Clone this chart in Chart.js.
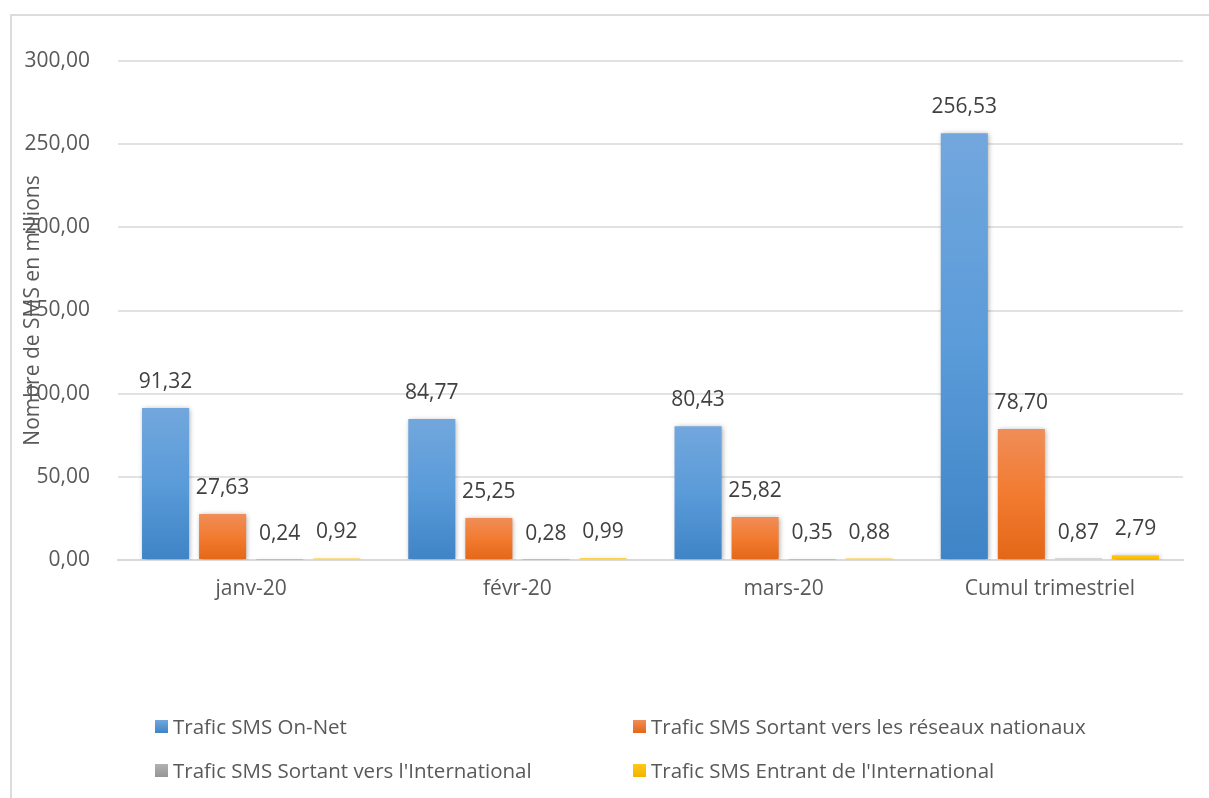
<!DOCTYPE html>
<html>
<head>
<meta charset="utf-8">
<script src="https://cdn.jsdelivr.net/npm/chart.js@4"></script>
<style>
  html, body { margin: 0; padding: 0; background: #fff; }
  #wrap { position: relative; width: 1209px; height: 798px; overflow: hidden; }
  #frame { position: absolute; left: 10px; top: 14px; width: 1260px; height: 900px;
           border-top: 2px solid #dcdcdc; border-left: 2px solid #dcdcdc; box-sizing: border-box; }
  #chart { position: absolute; left: 0; top: 0; }
  #legend { position: absolute; left: 155px; top: 704px; display: grid;
            grid-template-columns: 478px 478px; grid-auto-rows: 44px;
            font-family: "Open Sans", sans-serif; font-size: 20.5px; color: #595959; }
  #legend .item { display: flex; align-items: center; white-space: nowrap; }
  #legend .box { width: 13px; height: 13px; margin-right: 5px; flex: none; }
</style>
</head>
<body>
<div id="wrap">
  <div id="frame"></div>
  <canvas id="chart" width="1209" height="798"></canvas>
  <div id="legend"></div>
</div>
<script>
const categories = ["janv-20", "févr-20", "mars-20", "Cumul trimestriel"];
const seriesNames = [
  "Trafic SMS On-Net",
  "Trafic SMS Sortant vers les réseaux nationaux",
  "Trafic SMS Sortant vers l'International",
  "Trafic SMS Entrant de l'International"
];
const onNet = [91.32, 84.77, 80.43, 256.53];
const sortantNational = [27.63, 25.25, 25.82, 78.70];
const sortantInternational = [0.24, 0.28, 0.35, 0.87];
const entrantInternational = [0.92, 0.99, 0.88, 2.79];
const yTicks = [0, 50, 100, 150, 200, 250, 300];
const yTitle = "Nombre de SMS en millions";

const gradients = [
  ["#72a7dd", "#5a9bd9", "#3f84c6"],
  ["#f08d58", "#f27b30", "#e36717"],
  ["#b2b2b2", "#a5a5a5", "#959595"],
  ["#ffc81a", "#ffc000", "#f2b400"]
];
const values = [onNet, sortantNational, sortantInternational, entrantInternational];

function fmt(v) { return v.toFixed(2).replace(".", ","); }

function barFill(i) {
  return function (ctx) {
    const chart = ctx.chart;
    if (!chart.chartArea || ctx.type !== "data") return gradients[i][1];
    const y = chart.scales.y;
    const top = y.getPixelForValue(ctx.parsed.y);
    const bottom = y.getPixelForValue(0);
    if (!isFinite(top) || Math.abs(bottom - top) < 1) return gradients[i][1];
    const g = chart.ctx.createLinearGradient(0, top, 0, bottom);
    g.addColorStop(0, gradients[i][0]);
    g.addColorStop(0.5, gradients[i][1]);
    g.addColorStop(1, gradients[i][2]);
    return g;
  };
}

const datasets = values.map((arr, i) => ({
  label: seriesNames[i],
  data: arr,
  backgroundColor: barFill(i),
  borderWidth: 0,
  categoryPercentage: 0.857,
  barPercentage: 0.825
}));

const shadowPlugin = {
  id: "shadow",
  beforeDatasetsDraw(chart) {
    const c = chart.ctx;
    c.save();
    c.shadowColor = "rgba(0,0,0,0.35)";
    c.shadowBlur = 5;
    c.shadowOffsetX = 1;
    c.shadowOffsetY = 1;
  },
  afterDatasetsDraw(chart) {
    chart.ctx.restore();
  }
};

const labelPlugin = {
  id: "valueLabels",
  afterDatasetsDraw(chart) {
    const c = chart.ctx;
    c.save();
    c.font = '21px "Open Sans", sans-serif';
    c.fillStyle = "#404040";
    c.textAlign = "center";
    c.textBaseline = "middle";
    chart.data.datasets.forEach((ds, di) => {
      chart.getDatasetMeta(di).data.forEach((bar, j) => {
        c.fillText(fmt(ds.data[j]), bar.x, bar.y - 26);
      });
    });
    c.restore();
  }
};

const titlePlugin = {
  id: "yTitle",
  afterDraw(chart) {
    const c = chart.ctx;
    const a = chart.chartArea;
    c.save();
    c.translate(33, (a.top + a.bottom) / 2);
    c.rotate(-Math.PI / 2);
    c.font = '21px "Open Sans", sans-serif';
    c.fillStyle = "#595959";
    c.textAlign = "center";
    c.textBaseline = "middle";
    c.fillText(yTitle, 0, 0);
    c.restore();
  }
};

new Chart(document.getElementById("chart"), {
  type: "bar",
  data: { labels: categories, datasets: datasets },
  options: {
    responsive: false,
    animation: false,
    layout: { padding: { left: 0, right: 26, top: 61, bottom: 0 } },
    plugins: {
      legend: { display: false },
      tooltip: { enabled: false }
    },
    scales: {
      x: {
        grid: { display: false, drawTicks: false },
        border: { display: true, color: "#d9d9d9", width: 2 },
        ticks: { color: "#595959", font: { family: "Open Sans", size: 21 }, padding: 16 },
        afterFit(scale) { scale.height = 238; }
      },
      y: {
        min: 0, max: 300,
        afterBuildTicks(scale) { scale.ticks = yTicks.map(v => ({ value: v })); },
        grid: { color: "#e2e2e2", lineWidth: 2, drawTicks: false },
        border: { display: false },
        ticks: {
          color: "#595959", font: { family: "Open Sans", size: 21 }, padding: 28,
          callback: v => fmt(v)
        },
        afterFit(scale) { scale.width = 118; }
      }
    }
  },
  plugins: [shadowPlugin, labelPlugin, titlePlugin]
});

const legend = document.getElementById("legend");
seriesNames.forEach((name, i) => {
  const item = document.createElement("div");
  item.className = "item";
  const box = document.createElement("span");
  box.className = "box";
  box.style.background = "linear-gradient(" + gradients[i][0] + "," + gradients[i][2] + ")";
  const txt = document.createElement("span");
  txt.textContent = name;
  item.appendChild(box);
  item.appendChild(txt);
  legend.appendChild(item);
});
</script>
</body>
</html>
